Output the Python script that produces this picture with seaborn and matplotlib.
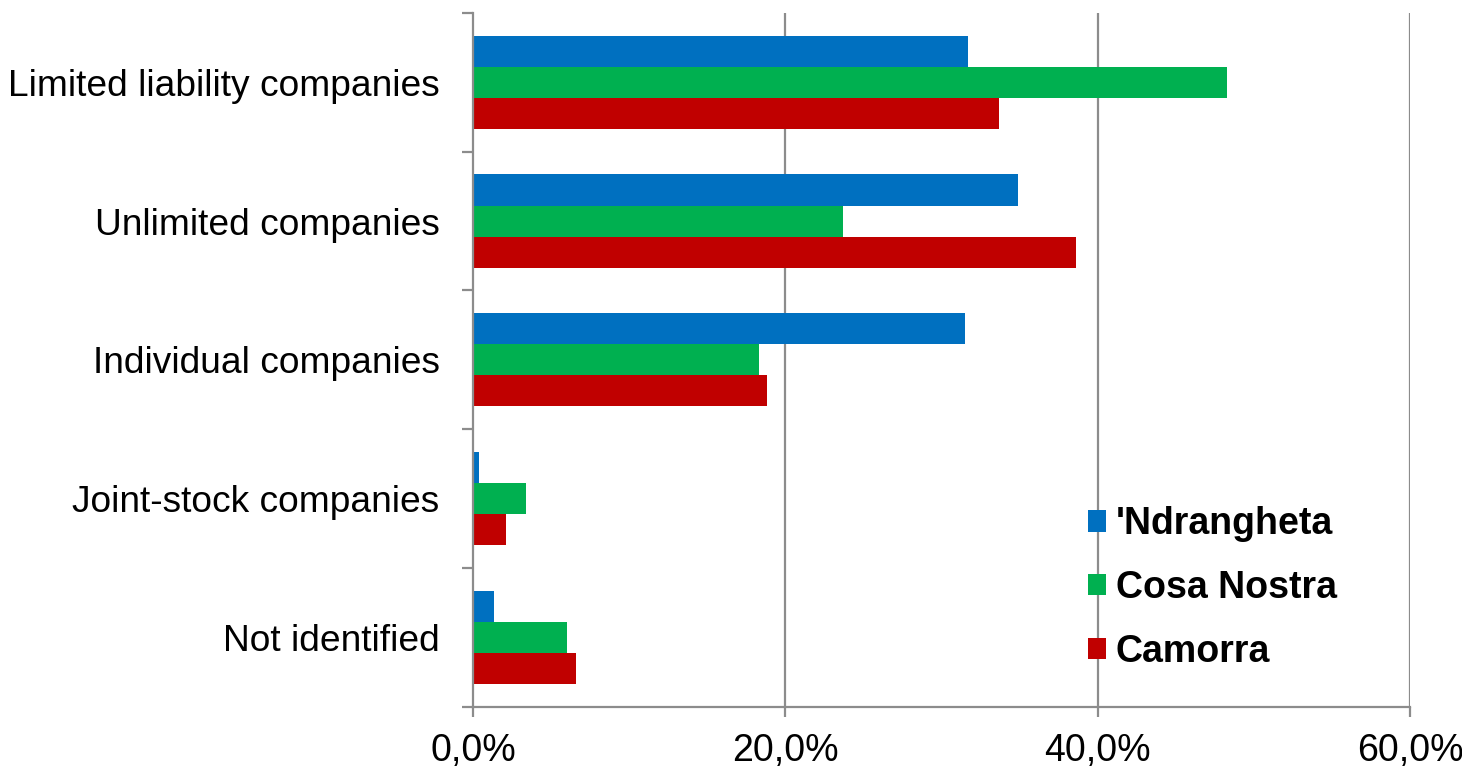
import numpy as np
import pandas as pd
import seaborn as sns
import matplotlib as mpl
mpl.use('Agg')
import matplotlib.pyplot as plt
from matplotlib.ticker import FuncFormatter, FixedLocator

# data (percent)
categories = ["Limited liability companies", "Unlimited companies", "Individual companies",
              "Joint-stock companies", "Not identified"]
groups = ["'Ndrangheta", "Cosa Nostra", "Camorra"]
ndrangheta = [31.7, 34.9, 31.5, 0.37, 1.37]
cosa_nostra = [48.3, 23.7, 18.3, 3.4, 6.0]
camorra = [33.7, 38.6, 18.8, 2.1, 6.6]
colors = ["#0070C0", "#00B050", "#C00000"]

df = pd.DataFrame({
    "category": categories * 3,
    "group": [g for g in groups for _ in categories],
    "value": ndrangheta + cosa_nostra + camorra,
})

sns.set_theme(style="white")
plt.rcParams['font.family'] = ['Liberation Sans', 'DejaVu Sans']
plt.rcParams['text.color'] = 'black'

fig, ax = plt.subplots(figsize=(14.62, 7.71), dpi=100)
fig.subplots_adjust(left=0.3235, right=0.9644, top=0.9835, bottom=0.083)

sns.barplot(data=df, x="value", y="category", hue="group", orient="h",
            palette=colors, width=0.67, saturation=1, linewidth=0, ax=ax, legend=True)

ax.set_xlim(0, 60)
ax.set_ylim(4.5, -0.5)
ax.set_xlabel("")
ax.set_ylabel("")

gray = "#8c8c8c"
ax.xaxis.set_major_locator(FixedLocator([0, 20, 40, 60]))
ax.xaxis.set_major_formatter(FuncFormatter(lambda v, p: f"{v:.1f}%".replace(".", ",")))
for x in [20, 40, 60]:
    ax.axvline(x, color=gray, lw=1.6, zorder=0)

ax.yaxis.set_minor_locator(FixedLocator(np.arange(-0.5, 5, 1)))
ax.tick_params(axis="y", which="major", length=0, pad=24, labelsize=26.7, labelcolor="black")
ax.tick_params(axis="y", which="minor", length=8, width=1.6, color=gray, direction="out", left=True)
ax.tick_params(axis="x", which="major", length=7, width=1.6, color=gray, direction="out",
               pad=12, labelsize=27, labelcolor="black", bottom=True)

for side in ["top", "right"]:
    ax.spines[side].set_visible(False)
for side in ["left", "bottom"]:
    ax.spines[side].set_color(gray)
    ax.spines[side].set_linewidth(1.6)

leg = ax.legend(loc="lower left", bbox_to_anchor=(0.62, 0.005), frameon=False,
                prop={"weight": "bold", "size": 27}, handlelength=0.5, handleheight=0.5,
                handletextpad=0.25, labelspacing=0.74)
for t in leg.get_texts():
    t.set_color("black")

fig.savefig("out.png", dpi=100)
